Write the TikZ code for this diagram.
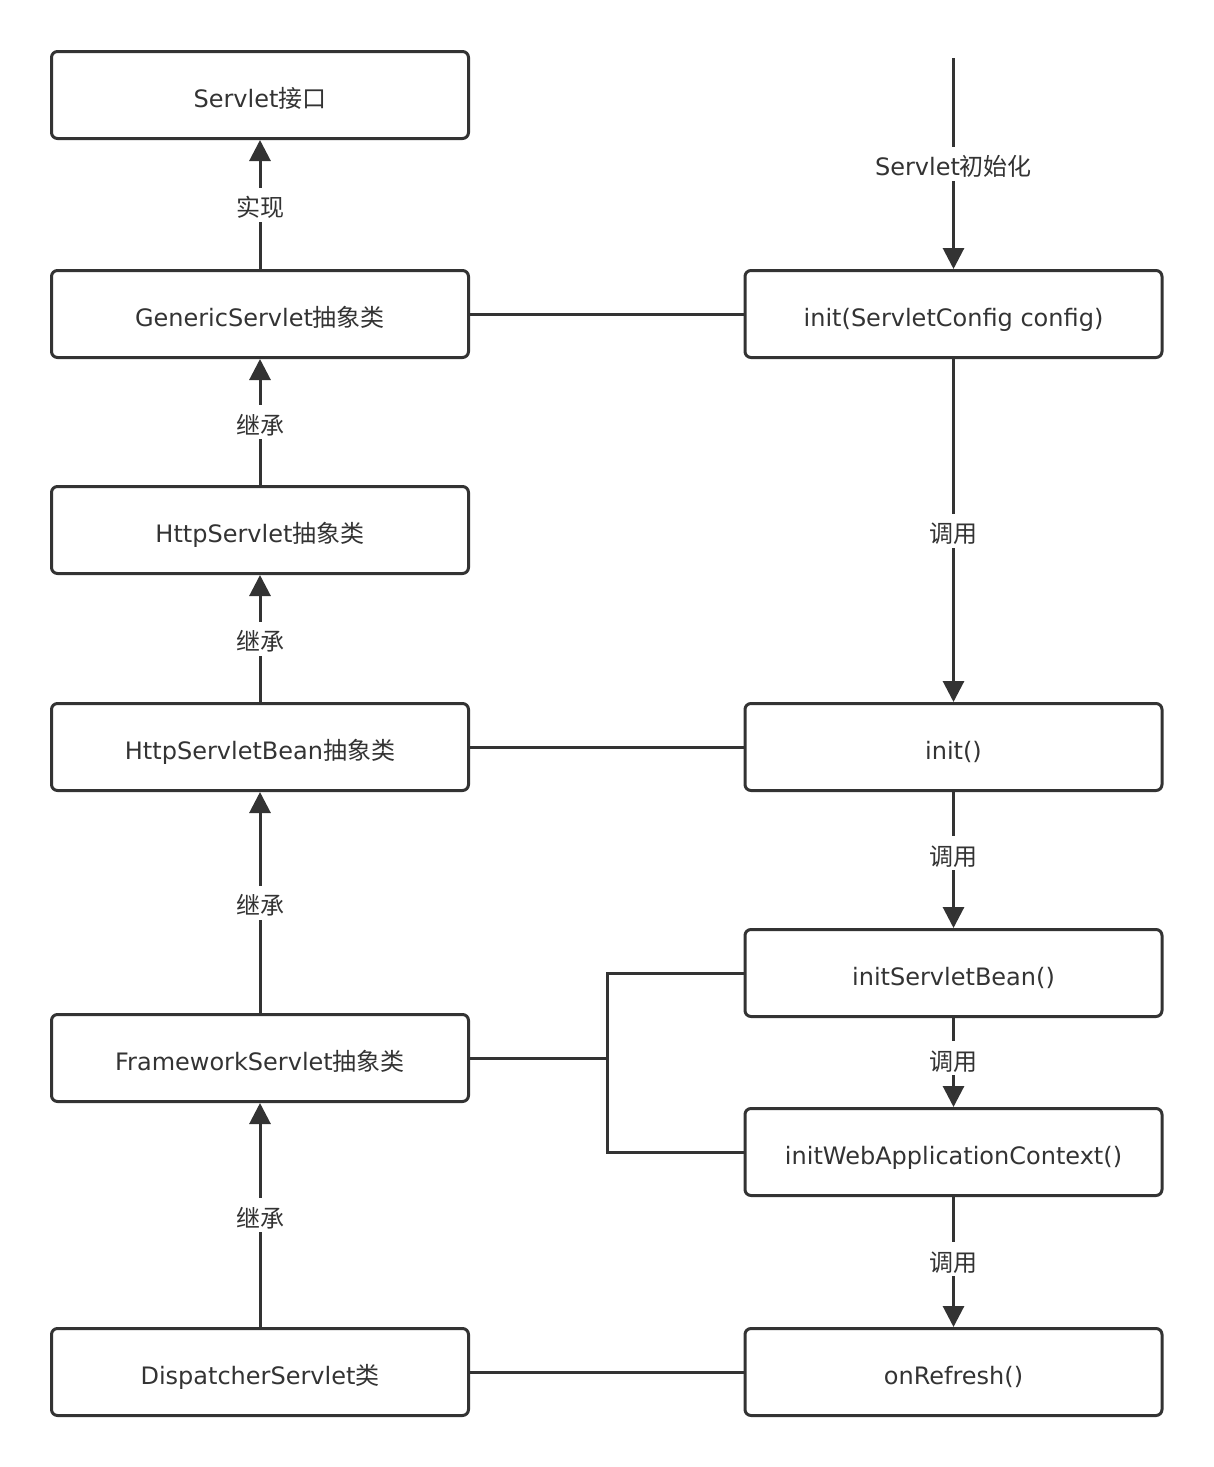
\documentclass[tikz,border=0pt]{standalone}
\usepackage{fontspec}
\setmainfont{DejaVu Sans}
\newfontfamily\cjk{Noto Sans CJK SC}
\usepackage{tikz}
\usetikzlibrary{positioning}
\usetikzlibrary{arrows.meta}
\definecolor{ink}{HTML}{333333}
\tikzstyle{box}=[rectangle,draw=ink,line width=1.5pt,rounded corners=3pt,minimum width=208.5pt,minimum height=43.5pt,inner sep=0pt,text height=12pt,text depth=0pt,text=ink,font=\fontsize{12}{14}\selectfont]
\tikzstyle{weight}=[fill=white,inner sep=2.5pt,text height=12pt,text depth=0pt,text=ink,font=\fontsize{12}{14}\selectfont]
\tikzstyle{link}=[draw=ink,line width=1.5pt]
\tikzstyle{arr}=[link,-{Triangle[length=10.5pt,width=10.5pt]}]

\begin{document}
\begin{tikzpicture}[x=0.5pt,y=-0.5pt]
\useasboundingbox (0,0) rectangle (1214,1467);

%Classes
    \foreach \pos/\name/\label in {{(260,95)/sv/Servlet{\cjk 接口}}, {(260,314)/gs/GenericServlet{\cjk 抽象类}}, {(260,530)/hs/HttpServlet{\cjk 抽象类}}, {(260,747)/hsb/HttpServletBean{\cjk 抽象类}}, {(260,1058)/fs/FrameworkServlet{\cjk 抽象类}}, {(260,1372)/ds/DispatcherServlet{\cjk 类}}}
        \node[box] (\name) at \pos {\label};

%Methods
    \foreach \pos/\name/\label in {{(953.5,314)/initcfg/init(ServletConfig config)}, {(953.5,747)/init/init()}, {(953.5,973)/isb/initServletBean()}, {(953.5,1152)/iwac/initWebApplicationContext()}, {(953.5,1372)/onr/onRefresh()}}
        \node[box] (\name) at \pos {\label};
    \coordinate (start) at (953.5,58);
    \coordinate (split) at (607,1058);

  \foreach \source/ \dest /\weight/\p in {gs/sv/{\cjk 实现}/0.5, hs/gs/{\cjk 继承}/0.5, hsb/hs/{\cjk 继承}/0.5, fs/hsb/{\cjk 继承}/0.5, ds/fs/{\cjk 继承}/0.5, start/initcfg/Servlet{\cjk 初始化}/0.5, initcfg/init/{\cjk 调用}/0.5, init/isb/{\cjk 调用}/0.45, isb/iwac/{\cjk 调用}/0.45, iwac/onr/{\cjk 调用}/0.48}
          \draw[arr] (\source) -- node[weight,pos=\p] {\weight} (\dest);
  \foreach \source/ \dest in {gs/initcfg, hsb/init, ds/onr}
          \draw[link] (\source) -- (\dest);
  \draw[link] (fs.east) -- (split) |- (isb.west);
  \draw[link] (split) |- (iwac.west);

\end{tikzpicture}
\end{document}
